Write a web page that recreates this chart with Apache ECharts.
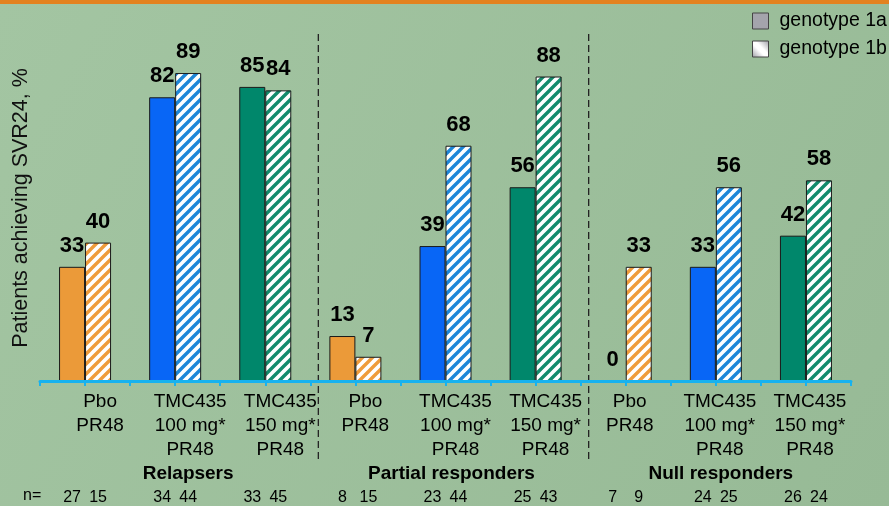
<!DOCTYPE html>
<html>
<head>
<meta charset="utf-8">
<script src="https://cdn.jsdelivr.net/npm/echarts@6/dist/echarts.min.js"></script>
<style>
  html, body { margin: 0; padding: 0; }
  #chart { width: 889px; height: 506px; }
</style>
</head>
<body>
<div id="chart"></div>
<script>
// data
const groups = ['Relapsers', 'Partial responders', 'Null responders'];
const arms = ['Pbo\nPR48', 'TMC435\n100 mg*\nPR48', 'TMC435\n150 mg*\nPR48'];
const categories = [
  'Relapsers|0', 'Relapsers|1', 'Relapsers|2',
  'Partial responders|0', 'Partial responders|1', 'Partial responders|2',
  'Null responders|0', 'Null responders|1', 'Null responders|2'
];
const genotype1a = [33, 82, 85, 13, 39, 56, 0, 33, 42];
const genotype1b = [40, 89, 84, 7, 68, 88, 33, 56, 58];
const n1a = [27, 34, 33, 8, 23, 25, 7, 24, 26];
const n1b = [15, 44, 45, 15, 44, 43, 9, 25, 24];

// styles
const armColors = ['#eb9a39', '#0866f6', '#00876b'];
const hatchColors = ['#ef9c3b', '#1d87d8', '#138b6c'];
const font = 'Arial, "Liberation Sans", sans-serif';

function hatch(color) {
  const c = document.createElement('canvas');
  c.width = 10; c.height = 10;
  const ctx = c.getContext('2d');
  ctx.fillStyle = '#fff';
  ctx.fillRect(0, 0, 10, 10);
  ctx.strokeStyle = color;
  ctx.lineWidth = 3.4;
  ctx.beginPath();
  ctx.moveTo(-5, 15); ctx.lineTo(15, -5);
  ctx.moveTo(-5, 5); ctx.lineTo(5, -5);
  ctx.moveTo(5, 15); ctx.lineTo(15, 5);
  ctx.stroke();
  return { image: c, repeat: 'repeat' };
}

const chart = echarts.init(document.getElementById('chart'));

const valueLabel = {
  show: true,
  position: 'top',
  distance: 10,
  fontSize: 22,
  fontWeight: 'bold',
  color: '#000',
  fontFamily: font
};

const armRich = {};
[30, 20, 8].forEach((p, i) => {
  armRich['s' + i] = { fontSize: 19, lineHeight: 24, color: '#000', fontFamily: font, padding: [0, 0, 0, p] };
});
const groupRich = {};
[26, 12, 10].forEach((p, i) => {
  groupRich['g' + i] = { fontSize: 19, fontWeight: 'bold', lineHeight: 24, color: '#000', fontFamily: font, padding: [0, 0, 0, p] };
});

const ticks18 = [];
for (let i = 0; i < 18; i++) ticks18.push('t' + i);

let option = {
  backgroundColor: {
    type: 'linear', x: 0, y: 0, x2: 1, y2: 1,
    colorStops: [{ offset: 0, color: '#a3c5a2' }, { offset: 1, color: '#97ba96' }]
  },
  textStyle: { fontFamily: font },
  animation: false,
  legend: {
    orient: 'vertical',
    left: 747,
    top: 6,
    icon: 'rect',
    itemWidth: 16,
    itemHeight: 16,
    itemGap: 8,
    textStyle: { fontSize: 19.5, color: '#000', padding: [0, 0, 0, 6] },
    data: [
      { name: 'genotype 1a', itemStyle: { color: '#a4a4ac', borderColor: '#444', borderWidth: 1 } },
      {
        name: 'genotype 1b',
        itemStyle: {
          color: {
            type: 'linear', x: 0, y: 1, x2: 1, y2: 0,
            colorStops: [
              { offset: 0, color: '#9a9aa2' }, { offset: 0.42, color: '#fff' },
              { offset: 0.58, color: '#fff' }, { offset: 1, color: '#9a9aa2' }
            ]
          },
          borderColor: '#444', borderWidth: 1
        }
      }
    ]
  },
  grid: { left: 40, right: 38, top: 35, bottom: 125, outerBoundsMode: 'none', containLabel: false },
  xAxis: [
    {
      type: 'category',
      position: 'bottom',
      data: categories,
      axisLine: { show: false },
      axisTick: { show: false },
      axisLabel: {
        interval: 0,
        margin: 9,
        formatter: (v, i) => {
          const [, a] = v.split('|');
          const sec = Math.floor(i / 3);
          return arms[+a].split('\n').map(l => '{s' + sec + '|' + l + '}').join('\n');
        },
        rich: armRich
      }
    },
    {
      type: 'category',
      position: 'bottom',
      data: ticks18,
      z: 6,
      axisLine: { lineStyle: { color: '#17b2ef', width: 3 } },
      axisTick: { show: true, interval: 0, length: 5, lineStyle: { color: '#17b2ef', width: 2 } },
      axisLabel: { show: false, interval: 0 }
    },
    {
      type: 'category',
      position: 'bottom',
      data: categories,
      axisLine: { show: false },
      axisTick: { show: false },
      axisLabel: {
        interval: 0,
        margin: 81,
        formatter: (v, i) => {
          if (i % 3 !== 1) return '';
          const g = v.split('|')[0];
          return '{g' + Math.floor(i / 3) + '|' + g + '}';
        },
        rich: groupRich
      }
    }
  ],
  yAxis: {
    type: 'value',
    min: 0,
    max: 100,
    name: 'Patients achieving SVR24, %',
    nameLocation: 'middle',
    nameRotate: 90,
    nameGap: 8,
    nameTextStyle: { fontSize: 21.5, color: '#111', fontFamily: font, padding: [0, 0, 0, 0] },
    axisLine: { show: false },
    axisTick: { show: false },
    axisLabel: { show: false },
    splitLine: { show: false }
  },
  series: [
    {
      name: 'genotype 1a',
      type: 'bar',
      xAxisIndex: 0,
      barWidth: 26,
      barGap: '0%',
      z: 3,
      itemStyle: { color: '#a4a4ac', borderColor: '#1a1a1a', borderWidth: 1 },
      label: valueLabel,
      data: genotype1a.map((v, i) => ({
        value: v,
        itemStyle: { color: armColors[i % 3], borderWidth: v === 0 ? 0 : 1 }
      }))
    },
    {
      name: 'genotype 1b',
      type: 'bar',
      xAxisIndex: 0,
      barWidth: 26,
      barGap: '0%',
      z: 3,
      itemStyle: { color: hatch('#9a9aa2'), borderColor: '#1a1a1a', borderWidth: 1 },
      label: valueLabel,
      data: genotype1b.map((v, i) => ({
        value: v,
        itemStyle: { color: hatch(hatchColors[i % 3]) }
      }))
    },
    // n= row, hung under zero-height bars so it follows the bar layout
    {
      name: 'n1a',
      type: 'bar',
      xAxisIndex: 2,
      barWidth: 26,
      barGap: '0%',
      itemStyle: { color: 'transparent' },
      label: {
        show: true, position: 'bottom', distance: 109,
        fontSize: 16, color: '#000',
        formatter: p => String(n1a[p.dataIndex])
      },
      data: n1a.map(() => 0)
    },
    {
      name: 'n1b',
      type: 'bar',
      xAxisIndex: 2,
      barWidth: 26,
      barGap: '0%',
      itemStyle: { color: 'transparent' },
      label: {
        show: true, position: 'bottom', distance: 109,
        fontSize: 16, color: '#000',
        formatter: p => String(n1b[p.dataIndex])
      },
      data: n1b.map(() => 0)
    }
  ]
};

chart.setOption(option);

// dashed separators between groups, a little right of the category boundary
const sepX = [2, 5].map(i => {
  const a = chart.convertToPixel({ xAxisIndex: 0 }, categories[i]);
  const b = chart.convertToPixel({ xAxisIndex: 0 }, categories[i + 1]);
  return (a + b) / 2 + 8;
});

chart.setOption({
  graphic: [
    { type: 'rect', left: 0, top: 0, shape: { width: 889, height: 4 }, style: { fill: '#e3821f' }, z: 10 },
    {
      type: 'text', left: 23, top: 488,
      style: { text: 'n=', fontSize: 16, fill: '#000', fontFamily: font }
    }
  ].concat(sepX.map(x => ({
    type: 'line',
    shape: { x1: x, y1: 34, x2: x, y2: 462 },
    style: { stroke: '#222', lineWidth: 1.3, lineDash: [7, 4] },
    z: 5
  })))
});
</script>
</body>
</html>
